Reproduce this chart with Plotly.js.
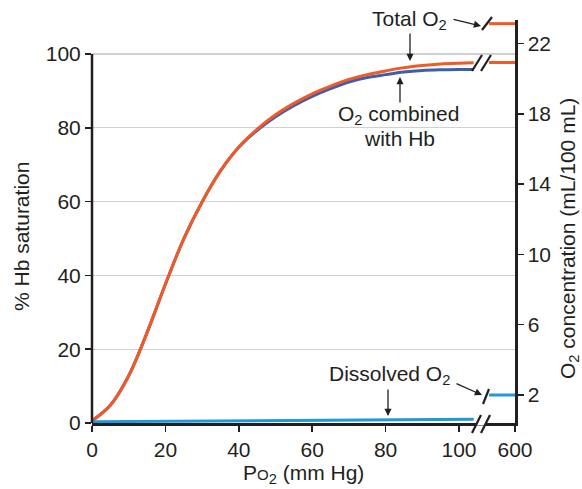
<!DOCTYPE html>
<html>
<head>
<meta charset="utf-8">
<script src="https://cdn.plot.ly/plotly-3.0.1.min.js"></script>
<style>html,body{margin:0;padding:0;background:#fff;}#chart{width:582px;height:489px;}</style>
</head>
<body>
<div id="chart"></div>
<script>
// ---- Data ----
const po2 =      [0,   5,   10,   15,   20,   25,   30,   35,   40,   45,   50,   55,   60,   65,   70,   75,   80,   85,   90,   95,   100,  104];
const totalSat = [0.6, 4.8, 12.8, 24.5, 37.6, 49.9, 59.9, 68.3, 74.8, 79.6, 83.5, 86.6, 89.2, 91.3, 93.1, 94.4, 95.4, 96.3, 96.9, 97.3, 97.5, 97.6];
const hbSat =    [0.6, 4.8, 12.8, 24.5, 37.6, 49.9, 59.9, 68.3, 74.7, 79.3, 83.0, 86.0, 88.5, 90.6, 92.4, 93.6, 94.4, 95.1, 95.5, 95.7, 95.8, 95.8];
const po2Dissolved = [0, 104];
const dissolvedO2 = [0.48, 0.62];          // mL/100 mL (right axis)
const po2High = [108.2, 115.26];           // broken-axis segment at 600 mm Hg
const totalAt600 = [23.13, 23.13];         // mL/100 mL
const hbAt600 = [20.92, 20.92];            // mL/100 mL
const dissolvedAt600 = [2.0, 2.0];         // mL/100 mL
const xTickVals = [0, 20, 40, 60, 80, 100, 115.26];
const xTickText = ['0', '20', '40', '60', '80', '100', '600'];
const leftTicks = [0, 20, 40, 60, 80, 100];
const rightTicks = [2, 6, 10, 14, 18, 22];

// ---- geometry helpers (plot area: x 92..515, y 20..423) ----
const L = 92, R = 515, T = 20, B = 423;
const px = v => (v - L) / (R - L);
const py = v => (B - v) / (B - T);

const ORANGE = '#ef5a26', BLUE = '#3d5eaf', LBLUE = '#1c9bd8', INK = '#231f20';
const FONT = 'Liberation Sans, Arial, Helvetica, sans-serif';
const FS = 21;

const traces = [
  {x: po2Dissolved, y: dissolvedO2, yaxis: 'y2', mode: 'lines', line: {color: LBLUE, width: 3}, hoverinfo: 'skip'},
  {x: po2, y: hbSat, mode: 'lines', line: {color: BLUE, width: 3, shape: 'spline', smoothing: 1}, hoverinfo: 'skip'},
  {x: po2, y: totalSat, mode: 'lines', line: {color: ORANGE, width: 3, shape: 'spline', smoothing: 1}, hoverinfo: 'skip'},
  {x: po2High, y: totalAt600, yaxis: 'y2', mode: 'lines', line: {color: ORANGE, width: 3}, hoverinfo: 'skip'},
  {x: po2High, y: hbAt600, yaxis: 'y2', mode: 'lines', line: {color: ORANGE, width: 3}, hoverinfo: 'skip'},
  {x: po2High, y: dissolvedAt600, yaxis: 'y2', mode: 'lines', line: {color: LBLUE, width: 3}, hoverinfo: 'skip'}
];

function slash(x0, y0, x1, y1, w) {
  return {type: 'line', xref: 'paper', yref: 'paper', x0: px(x0), y0: py(y0), x1: px(x1), y1: py(y1),
          line: {color: INK, width: w || 2.2}, layer: 'above'};
}

const shapes = [
  {type: 'line', xref: 'paper', yref: 'y', x0: 0, x1: 0, y0: 0, y1: 100, line: {color: INK, width: 2.5}, layer: 'above'},
  {type: 'line', xref: 'paper', yref: 'paper', x0: px(477), x1: px(486), y0: 0, y1: 0, line: {color: '#ffffff', width: 5}, layer: 'above'},
  slash(482, 30, 492, 17),
  slash(472, 71, 482, 55),
  slash(481, 71, 491, 55),
  slash(483, 404, 489, 389),
  slash(472, 433, 481, 415),
  slash(481, 433, 490, 415)
];

function arrow(tx, ty, sx, sy) {
  return {xref: 'paper', yref: 'paper', x: px(tx), y: py(ty), ax: sx - tx, ay: sy - ty, text: '',
          showarrow: true, arrowhead: 2, arrowsize: 1.1, arrowwidth: 1.3, arrowcolor: INK};
}
function label(text, cx, cy, extra) {
  return Object.assign({xref: 'paper', yref: 'paper', x: px(cx), y: py(cy), text: text, showarrow: false,
          xanchor: 'center', yanchor: 'middle', font: {family: FONT, size: FS, color: INK}}, extra || {});
}

const annotations = [
  label('Total O<sub>2</sub>', 409, 20),
  arrow(481, 26, 452, 19),
  arrow(410, 61, 410, 32),
  label('O<sub>2</sub> combined', 398, 115),
  label('with Hb', 399, 138),
  arrow(400, 77, 400, 104),
  label('Dissolved O<sub>2</sub>', 389, 375),
  arrow(482, 395, 455, 383),
  arrow(388, 416, 388, 388),
  label('% Hb saturation', 21, 237, {textangle: -90}),
  label('O<sub>2</sub> concentration (mL/100 mL)', 569, 239, {textangle: -90}),
  label('P<span style="font-size:15px">O</span><sub>2</sub> (mm Hg)', 303, 474)
];

const tf = {family: FONT, size: FS, color: INK};
const layout = {
  width: 582, height: 489,
  margin: {l: L, r: 582 - R, t: T, b: 489 - B, pad: 0},
  paper_bgcolor: '#ffffff', plot_bgcolor: '#ffffff',
  showlegend: false,
  font: {family: FONT, size: FS, color: INK},
  xaxis: {range: [0, 115.26], tickmode: 'array', tickvals: xTickVals, ticktext: xTickText,
          ticks: 'outside', ticklen: 6, tickwidth: 1.5, tickcolor: INK,
          showline: true, linecolor: INK, linewidth: 2.5, showgrid: false, zeroline: false,
          tickfont: tf, fixedrange: true},
  yaxis: {range: [0, 109.2], tickmode: 'array', tickvals: leftTicks,
          ticks: 'outside', ticklen: 6, tickwidth: 1.5, tickcolor: INK,
          showline: false, showgrid: true, gridcolor: '#d0d0d0', gridwidth: 1.2, zeroline: false,
          tickfont: tf, fixedrange: true},
  yaxis2: {range: [0.407, 23.337], overlaying: 'y', side: 'right', tickmode: 'array', tickvals: rightTicks,
          ticks: 'outside', ticklen: 6, tickwidth: 1.5, tickcolor: INK,
          showline: true, linecolor: INK, linewidth: 2.5, showgrid: false, zeroline: false,
          tickfont: tf, fixedrange: true},
  shapes: shapes,
  annotations: annotations
};

Plotly.newPlot('chart', traces, layout, {staticPlot: true, displayModeBar: false});
</script>
</body>
</html>
